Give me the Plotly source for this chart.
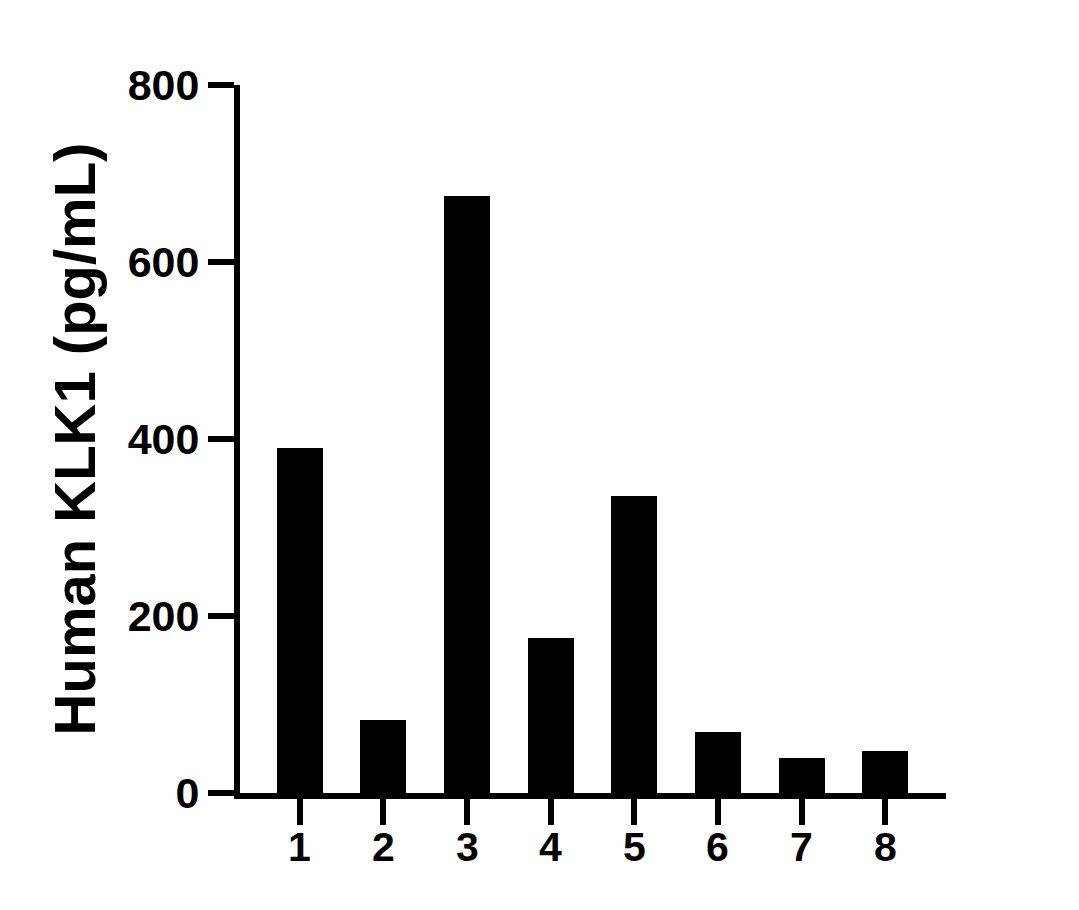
""" bar chart of human KLK1 concentration per sample """

import plotly.graph_objects as go

# sample numbers and measured concentration (pg/mL)
samples = [1, 2, 3, 4, 5, 6, 7, 8]
klk1_values = [390, 82, 675, 175, 336, 69, 40, 48]
y_ticks = [0, 200, 400, 600, 800]

font_name = "Liberation Sans, Arial, sans-serif"

fig = go.Figure()
fig.add_trace(go.Bar(x=samples, y=klk1_values, width=0.55,
                     marker=dict(color="black", line=dict(width=0))))

# axis formatting, x tick labels are added as annotations to sit closer to the ticks
fig.update_xaxes(range=[0.286, 8.726], tickvals=samples, showticklabels=False,
                 showline=True, linecolor="black", linewidth=6,
                 ticks="outside", ticklen=26, tickwidth=6, tickcolor="black",
                 showgrid=False, zeroline=False)
fig.update_yaxes(range=[0, 800], tickvals=y_ticks,
                 showline=True, linecolor="black", linewidth=6,
                 ticks="outside", ticklen=26, tickwidth=6, tickcolor="black",
                 tickfont=dict(family=font_name, size=43, color="black", weight="bold"),
                 title=dict(text="Human KLK1 (pg/mL)", standoff=15,
                            font=dict(family=font_name, size=58, color="black", weight="bold")),
                 showgrid=False, zeroline=False)

for s in samples:
    fig.add_annotation(x=s, xref="x", y=0, yref="paper", text=str(s), showarrow=False,
                       yanchor="middle", yshift=-54,
                       font=dict(family=font_name, size=41, color="black", weight="bold"))

fig.update_layout(width=1079, height=910, plot_bgcolor="white", paper_bgcolor="white",
                  margin=dict(l=232, r=141, t=77, b=125), showlegend=False, bargap=0)

fig.write_html("out.html")
